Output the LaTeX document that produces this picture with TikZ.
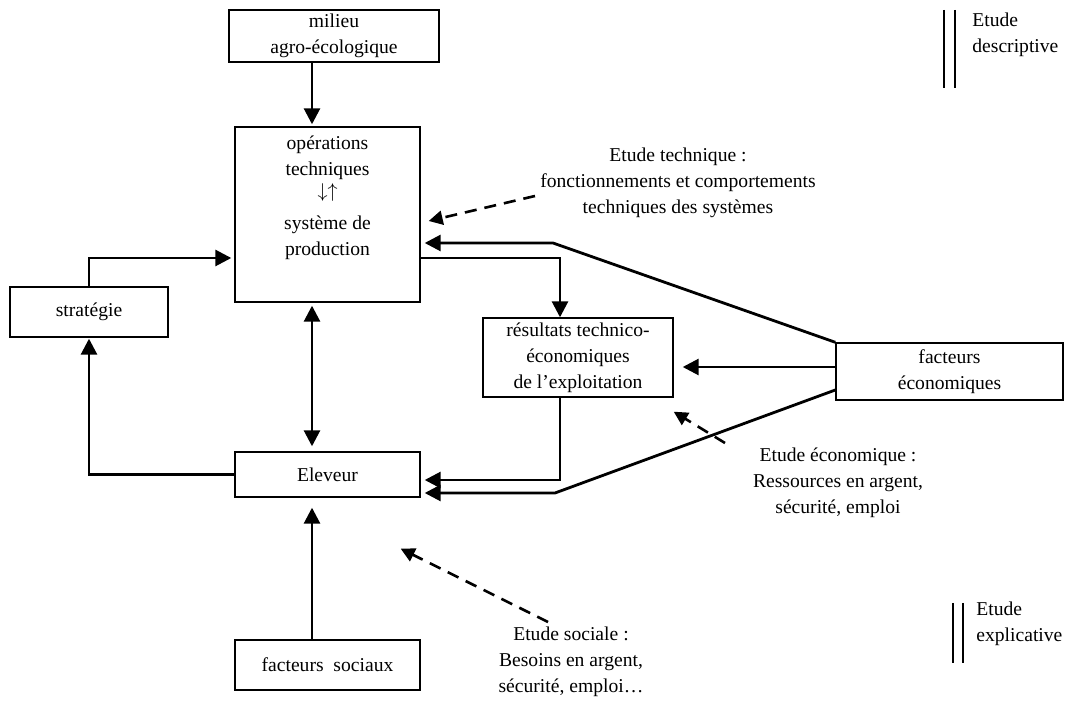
\documentclass[tikz,border=0pt]{standalone}
\usepackage{fontspec}
\setmainfont{Liberation Serif}
\usetikzlibrary{arrows.meta,calc}
\begin{document}
\begin{tikzpicture}[x=0.5pt,y=-0.5pt,
  box/.style={draw,line width=0.7pt,align=center,inner sep=0pt,font=\fontsize{9.8}{13}\selectfont},
  lbl/.style={align=center,inner sep=0pt,font=\fontsize{9.8}{13}\selectfont},
  conn/.style={line width=1.4pt,-{Triangle[length=8pt,width=8pt]}},
  conntwo/.style={line width=1.4pt,{Triangle[length=8pt,width=8pt]}-{Triangle[length=8pt,width=8pt]}},
  dconn/.style={line width=1.3pt,dash pattern=on 6pt off 4pt,-{Triangle[length=7pt,width=7pt]}},
  bar/.style={line width=1pt}]
\useasboundingbox (0,0) rectangle (1088,705);

% boxes
\node[box,minimum width=105pt,minimum height=26pt] (milieu) at (334,36) {milieu\\agro-écologique};
\node[box,minimum width=92.5pt,minimum height=87.5pt] (ops) at (327.5,214.5)
  {opérations\\techniques\\[-2pt]$\downarrow\uparrow$\\[3pt]système de\\production\\[6pt]\mbox{}};
\node[box,minimum width=79pt,minimum height=25pt] (strat) at (89,312) {stratégie};
\node[box,minimum width=92.5pt,minimum height=22.5pt] (elev) at (327.5,474.5) {Eleveur};
\node[box,minimum width=95pt,minimum height=39.5pt] (res) at (578,357.5)
  {résultats technico-\\économiques\\de l'exploitation};
\node[box,minimum width=113.5pt,minimum height=28.5pt] (fecon) at (949.5,371.5) {facteurs\\économiques};
\node[box,minimum width=92.5pt,minimum height=25pt] (fsoc) at (327.5,665) {facteurs\ \ sociaux};

% labels
\node[lbl] (ltech) at (678,183) {Etude technique :\\fonctionnements et comportements\\techniques des systèmes};
\node[lbl] (lecon) at (838,483) {Etude économique :\\Ressources en argent,\\sécurité, emploi};
\node[lbl] (lsoc) at (571,662) {Etude sociale :\\Besoins en argent,\\sécurité, emploi\dots};
\node[lbl,anchor=west,align=left] (ldesc) at (972,35) {Etude\\descriptive};
\node[lbl,anchor=west,align=left] (lexpl) at (976,624) {Etude\\explicative};

% double bars
\draw[bar] (944,10) -- (944,88) (955,10) -- (955,88);
\draw[bar] (953,603) -- (953,663) (963,603) -- (963,663);

% helper coordinates
\coordinate (cx) at (312,0);
\coordinate (sy) at (0,258);
\coordinate (rx) at (560,0);
\coordinate (ey1) at (0,480);
\coordinate (b1) at (553,243);
\coordinate (b2) at (555,493);
\coordinate (fy) at (0,390);
\coordinate (fy2) at (0,367);
\coordinate (dt) at (535,196);
\coordinate (de) at (725,443);
\coordinate (ds) at (548,622);

% connectors
\draw[conn,shorten >=1pt] (milieu.south -| cx) -- (ops.north -| cx);
\draw[conntwo,shorten <=1.5pt,shorten >=2.5pt] (ops.south -| cx) -- (elev.north -| cx);
\draw[conn,shorten >=5pt] (fsoc.north -| cx) -- (elev.south -| cx);
\draw[conn,shorten >=1.5pt] (strat.north) |- (ops.west |- sy);
\draw[conn,shorten >=0.5pt] (elev.west) -| (strat.south);
\draw[conn] (ops.east |- sy) -| (res.north -| rx);
\draw[conn,shorten >=2pt] (res.south -| rx) |- (elev.east |- ey1);
\draw[conn,shorten >=2pt] (fecon.north west) -- (b1) -- (ops.east |- b1);
\draw[conn,shorten >=2pt] (fecon.west |- fy) -- (b2) -- (elev.east |- b2);
\draw[conn,shorten >=4.5pt] (fecon.west |- fy2) -- (res.east |- fy2);

% dashed study arrows
\draw[dconn] (dt) -- ($(ops.east)+(8,6.5)$);
\draw[dconn] (de) -- ($(res.south east)+(0,14)$);
\draw[dconn] (ds) -- ($(elev.south east)+(-20,51)$);
\end{tikzpicture}
\end{document}
